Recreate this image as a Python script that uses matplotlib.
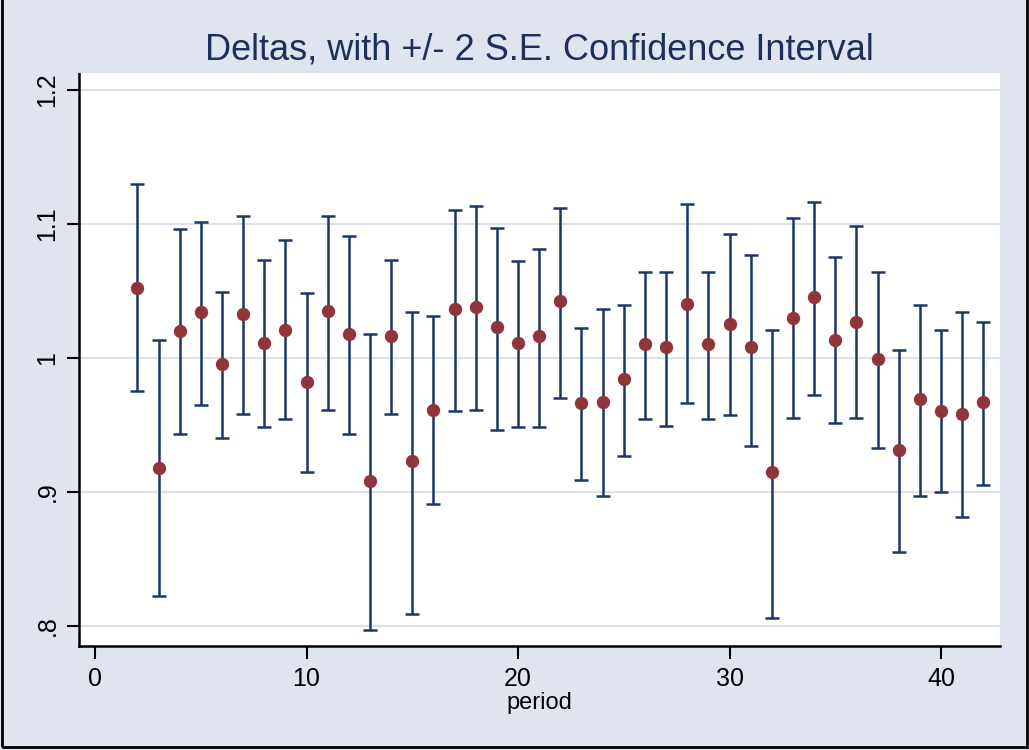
import matplotlib
matplotlib.use("Agg")
import matplotlib.pyplot as plt
from matplotlib.patches import Rectangle

plt.rcParams['font.family'] = ['Liberation Sans', 'DejaVu Sans']

period = list(range(2, 43))
delta = [1.052, 0.918, 1.020, 1.034, 0.995, 1.033, 1.011, 1.021, 0.982, 1.035,
         1.018, 0.908, 1.016, 0.923, 0.961, 1.036, 1.038, 1.023, 1.011, 1.016,
         1.042, 0.966, 0.967, 0.984, 1.010, 1.008, 1.040, 1.010, 1.025, 1.008,
         0.915, 1.030, 1.045, 1.013, 1.027, 0.999, 0.931, 0.969, 0.960, 0.958,
         0.967]
upper = [1.130, 1.013, 1.096, 1.101, 1.049, 1.106, 1.073, 1.088, 1.048, 1.106,
         1.091, 1.018, 1.073, 1.034, 1.031, 1.110, 1.113, 1.097, 1.072, 1.081,
         1.112, 1.022, 1.036, 1.039, 1.064, 1.064, 1.115, 1.064, 1.092, 1.077,
         1.021, 1.104, 1.116, 1.075, 1.098, 1.064, 1.006, 1.039, 1.021, 1.034,
         1.027]
lower = [0.975, 0.822, 0.943, 0.965, 0.940, 0.958, 0.948, 0.954, 0.915, 0.961,
         0.943, 0.797, 0.958, 0.809, 0.891, 0.960, 0.961, 0.946, 0.948, 0.948,
         0.970, 0.909, 0.897, 0.927, 0.954, 0.949, 0.966, 0.954, 0.957, 0.934,
         0.806, 0.955, 0.972, 0.951, 0.955, 0.933, 0.855, 0.897, 0.900, 0.881,
         0.905]

x_ticks = [0, 10, 20, 30, 40]
y_ticks = [0.8, 0.9, 1.0, 1.1, 1.2]
y_tick_labels = ['.8', '.9', '1', '1.1', '1.2']
title = 'Deltas, with +/- 2 S.E. Confidence Interval'
xlabel = 'period'

bg = '#DFE4EF'
navy = '#1B3766'
maroon = '#90353B'
grid_c = '#DCE1EC'

fig = plt.figure(figsize=(10.29, 7.5), dpi=100, facecolor=bg)
ax = fig.add_axes([79/1029, 1-646/750, (1000-79)/1029, (646-72)/750])
ax.set_facecolor('white')

# capped spikes (rcap) from lower to upper bound, dots at the estimates
mid = [(u + l) / 2 for u, l in zip(upper, lower)]
half = [(u - l) / 2 for u, l in zip(upper, lower)]
ax.errorbar(period, mid, yerr=half, fmt='none', ecolor=navy, elinewidth=1.8,
            capsize=5, capthick=1.8, zorder=2)
ax.plot(period, delta, 'o', color=maroon, markersize=9.6, markeredgewidth=0,
        zorder=3)

ax.set_xlim(-0.76, 42.79)
ax.set_ylim(0.7849, 1.2132)
ax.set_xticks(x_ticks)
ax.set_yticks(y_ticks)
ax.set_yticklabels(y_tick_labels, rotation=90, va='center')
ax.tick_params(axis='both', length=9, width=1.5, color='black', labelsize=18,
               pad=6)
ax.tick_params(axis='y', pad=5)
ax.grid(axis='y', color=grid_c, linewidth=1.5)
ax.set_axisbelow(True)
for s in ['left', 'bottom']:
    ax.spines[s].set_linewidth(1.8)
    ax.spines[s].set_color('black')
ax.spines['right'].set_visible(False)
ax.spines['top'].set_color(grid_c)
ax.spines['top'].set_linewidth(1.5)

ax.set_xlabel(xlabel, fontsize=17, labelpad=1)
fig.text(539.5/1029, 1-60/750, title, fontsize=26, color='#1E2F5A',
         ha='center', va='baseline')

fig.patches.append(Rectangle((2/1029, 3/750), 1025/1029, 1.05, transform=fig.transFigure,
                             fill=False, edgecolor='black', linewidth=2.0))

fig.savefig('out.png', dpi=100, facecolor=bg)
